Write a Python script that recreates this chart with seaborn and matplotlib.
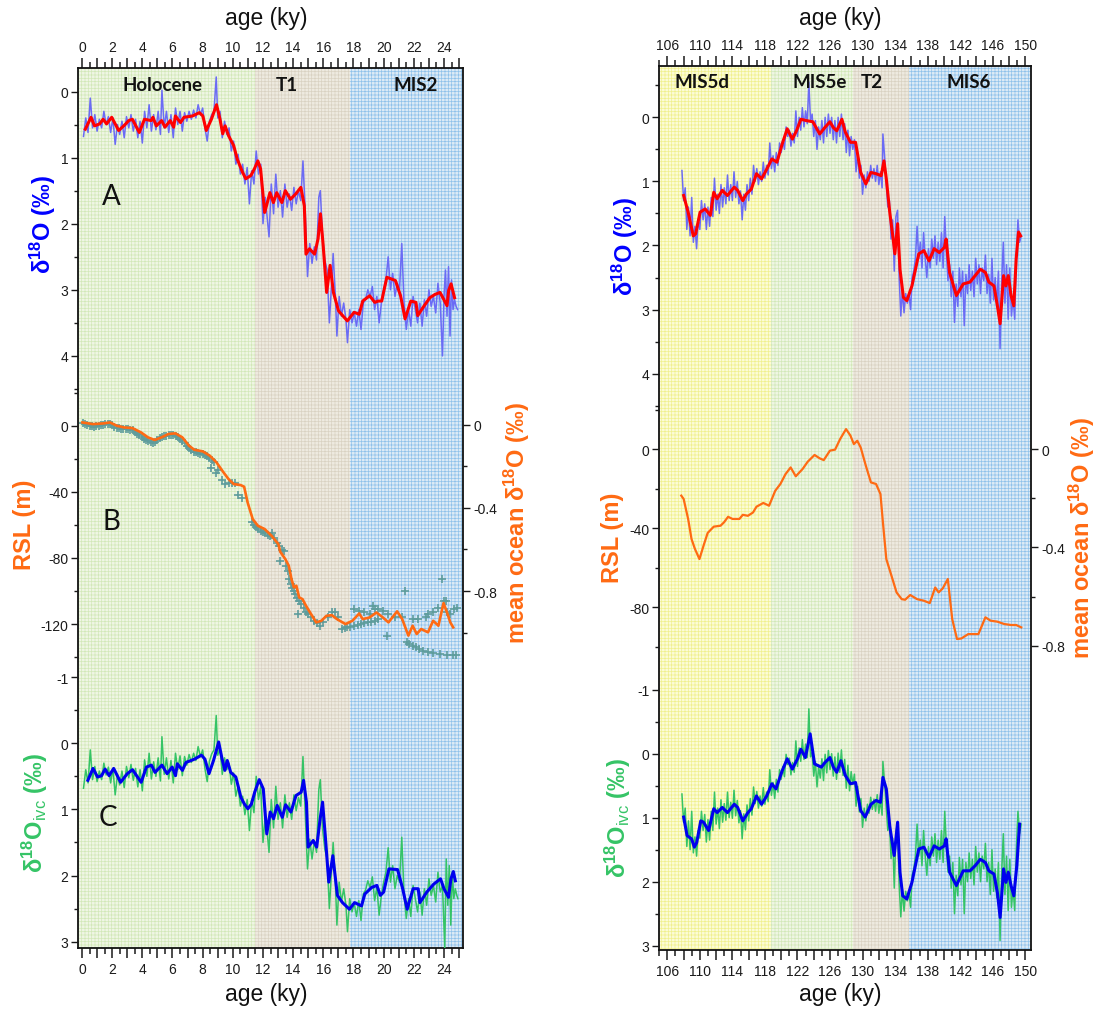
import numpy as np
import matplotlib
matplotlib.use("Agg")
import matplotlib.pyplot as plt
from matplotlib.ticker import MultipleLocator, FuncFormatter
import seaborn as sns

plt.rcParams['font.family'] = ['Liberation Sans', 'DejaVu Sans']
plt.rcParams['mathtext.fontset'] = 'custom'
plt.rcParams['mathtext.rm'] = 'Liberation Sans'
plt.rcParams['mathtext.bf'] = 'Liberation Sans:bold'
plt.rcParams['mathtext.it'] = 'Liberation Sans:italic'
plt.rcParams['axes.unicode_minus'] = False
plt.rcParams['hatch.linewidth'] = 0.5

# ---------------- DATA: left column (0-25 ky) ----------------
L_A_RAW = [(0.10,0.68),(0.25,0.40),(0.40,0.62),(0.55,0.10),(0.70,0.55),(0.85,0.35),(1.00,0.60),(1.15,0.42),(1.30,0.55),(1.45,0.30),
 (1.60,0.50),(1.75,0.38),(1.90,0.62),(2.05,0.40),(2.20,0.80),(2.35,0.50),(2.50,0.65),(2.65,0.45),(2.80,0.70),(2.95,0.38),
 (3.10,0.55),(3.25,0.35),(3.40,0.60),(3.55,0.42),(3.70,0.70),(3.85,0.45),(4.00,0.78),(4.15,0.30),(4.30,0.55),(4.45,0.20),
 (4.60,0.60),(4.75,0.35),(4.90,0.58),(5.05,0.30),(5.20,0.65),(5.30,-0.02),(5.45,0.55),(5.60,0.30),(5.75,0.62),(5.90,0.35),
 (6.05,0.70),(6.20,0.25),(6.35,0.50),(6.50,0.30),(6.65,0.60),(6.80,0.32),(6.95,0.45),(7.10,0.30),(7.25,0.42),(7.40,0.28),
 (7.55,0.40),(7.70,0.20),(7.85,0.35),(8.00,0.25),(8.15,0.55),(8.30,0.75),(8.45,0.45),(8.60,0.35),(8.75,0.30),(8.90,-0.22),
 (9.00,0.40),(9.15,0.30),(9.30,0.70),(9.45,0.45),(9.60,0.65),(9.75,0.55),(9.90,0.90),(10.05,0.75),(10.20,1.10),(10.35,0.95),
 (10.50,1.25),(10.65,1.10),(10.80,1.40),(10.95,1.15),(11.10,1.70),(11.25,1.20),(11.40,1.40),(11.55,0.90),(11.70,1.25),(11.85,1.10),
 (12.00,2.00),(12.15,1.60),(12.30,1.95),(12.40,2.20),(12.55,1.40),(12.70,1.85),(12.85,1.25),(13.00,1.75),(13.15,1.50),(13.30,1.90),
 (13.45,1.40),(13.60,1.75),(13.75,1.55),(13.90,1.80),(14.05,1.45),(14.20,1.70),(14.35,1.50),(14.50,1.65),(14.65,1.05),(14.80,1.80),
 (14.95,2.80),(15.10,2.30),(15.25,2.60),(15.40,2.35),(15.55,2.55),(15.70,1.60),(15.80,1.50),(15.95,2.20),(16.10,2.55),(16.25,2.70),
 (16.40,3.50),(16.55,2.90),(16.65,2.45),(16.80,3.10),(16.90,3.70),(17.05,3.10),(17.20,3.40),(17.35,3.20),(17.50,3.45),(17.60,3.80),
 (17.75,3.30),(17.90,3.50),(18.05,3.35),(18.20,3.55),(18.35,3.30),(18.50,3.60),(18.65,3.20),(18.80,3.15),(18.95,3.00),(19.10,3.10),
 (19.25,2.95),(19.40,3.30),(19.55,3.10),(19.70,3.50),(19.85,3.20),(20.00,3.00),(20.15,2.85),(20.30,2.50),(20.45,3.00),(20.60,2.75),
 (20.75,3.10),(20.90,2.90),(21.05,3.00),(21.20,2.30),(21.35,3.20),(21.50,3.60),(21.65,3.30),(21.80,3.55),(21.95,3.10),(22.10,3.30),
 (22.25,3.50),(22.40,3.20),(22.55,3.55),(22.70,3.15),(22.85,3.40),(23.00,3.00),(23.15,3.25),(23.30,3.10),(23.45,3.35),(23.60,2.90),
 (23.75,3.20),(23.90,4.00),(24.00,3.10),(24.10,2.70),(24.20,3.40),(24.30,2.65),(24.40,3.70),(24.50,2.85),(24.60,3.30),(24.70,3.15),
 (24.80,3.25),(24.90,3.30)]

L_A_SMOOTH = [(0.22,0.57),(0.60,0.39),(0.83,0.52),(1.17,0.49),(1.40,0.42),(1.63,0.49),(1.97,0.39),(2.43,0.59),(2.77,0.52),(3.10,0.44),
 (3.34,0.42),(3.80,0.62),(4.14,0.42),(4.59,0.44),(4.70,0.39),(4.93,0.52),(5.28,0.44),(5.50,0.54),(5.85,0.44),(6.08,0.54),
 (6.19,0.37),(6.53,0.47),(6.76,0.39),(7.33,0.37),(7.78,0.32),(8.01,0.37),(8.24,0.59),(8.58,0.42),(8.92,0.20),(9.15,0.42),
 (9.33,0.64),(9.49,0.52),(9.72,0.67),(10.06,0.82),(10.29,1.02),(10.64,1.22),(10.86,1.32),(11.20,1.27),(11.43,1.17),(11.66,1.05),
 (11.84,1.17),(12.11,1.83),(12.23,1.73),(12.46,1.53),(12.69,1.68),(12.91,1.53),(13.25,1.68),(13.48,1.50),(13.82,1.63),(14.17,1.55),
 (14.51,1.45),(14.74,1.73),(14.85,2.46),(15.08,2.38),(15.42,2.46),(15.65,2.23),(15.81,1.85),(15.99,2.33),(16.22,3.04),(16.45,2.63),
 (16.67,3.04),(17.01,3.32),(17.59,3.47),(18.04,3.34),(18.38,3.37),(18.61,3.17),(19.07,3.09),(19.41,3.19),(19.64,3.17),(19.87,3.17),
 (20.21,2.81),(20.78,2.86),(21.12,3.09),(21.42,3.44),(21.80,3.17),(22.14,3.19),(22.26,3.39),(22.60,3.27),(23.06,3.12),(23.40,3.07),
 (23.74,3.04),(23.97,3.14),(24.20,3.24),(24.31,3.01),(24.47,2.91),(24.70,3.12)]

L_RSL_LINE = [(0.03,2.0),(0.72,1.0),(1.40,1.4),(1.86,2.0),(2.31,0.0),(2.77,-1.0),(3.34,-1.4),(3.91,-4.0),(4.37,-7.0),(4.82,-8.6),
 (5.28,-7.0),(5.73,-5.0),(6.19,-4.6),(6.65,-7.0),(7.10,-12.1),(7.44,-14.5),(8.01,-15.5),(8.47,-18.1),(8.92,-22.2),(9.38,-28.2),
 (9.72,-32.3),(10.06,-35.3),(10.52,-35.9),(10.75,-36.9),(10.98,-46.4),(11.32,-56.5),(11.66,-60.5),(12.11,-62.5),(12.57,-66.6),(13.02,-71.6),
 (13.14,-76.2),(13.48,-80.7),(13.71,-84.7),(13.89,-92.8),(14.05,-97.8),(14.21,-96.8),(14.40,-103.9),(14.62,-104.9),(14.85,-108.9),(15.19,-114.0),
 (15.53,-119.0),(15.87,-118.0),(16.21,-115.0),(16.56,-114.6),(16.90,-117.0),(17.47,-120.0),(17.93,-118.0),(18.38,-113.6),(18.61,-117.0),(19.07,-116.0),
 (19.52,-113.0),(19.87,-115.4),(20.32,-119.0),(20.89,-112.3),(21.23,-117.0),(21.64,-127.0),(21.92,-121.0),(22.19,-126.0),(22.49,-123.0),(22.94,-125.0),
 (23.28,-118.0),(23.63,-121.0),(23.97,-107.3),(24.20,-113.0),(24.42,-119.0),(24.61,-122.0)]

L_RSL_PTS = [(0.05,1.5),(0.2,1.0),(0.35,0.5),(0.5,0.0),(0.65,-0.3),(0.8,-0.5),(0.95,-0.3),(1.1,0.0),(1.25,0.3),(1.4,0.6),
 (1.55,0.8),(1.7,1.0),(1.85,0.8),(2.0,0.3),(2.15,-0.5),(2.3,-1.2),(2.45,-1.5),(2.6,-1.8),(2.75,-2.0),(2.9,-2.2),
 (3.05,-2.2),(3.2,-2.4),(3.35,-2.8),(3.5,-3.8),(3.65,-4.8),(3.8,-5.8),(3.95,-6.8),(4.1,-7.8),(4.25,-8.6),(4.4,-9.4),
 (4.55,-10.0),(4.7,-10.2),(4.85,-9.8),(5.0,-8.8),(5.15,-7.6),(5.3,-6.8),(5.45,-6.2),(5.6,-6.0),(5.75,-5.6),(5.9,-5.4),
 (6.05,-5.6),(6.2,-6.0),(6.35,-7.0),(6.5,-8.0),(6.65,-9.0),(6.8,-10.5),(6.95,-12.0),(7.1,-13.5),(7.25,-14.8),(7.4,-15.6),
 (7.55,-16.0),(7.7,-16.4),(7.85,-16.8),(8.0,-17.2),(8.15,-17.8),(8.3,-18.6),(8.45,-19.4),(8.6,-20.5),
 (8.55,-25.5),(8.75,-22),(8.9,-28.5),(9.05,-27),(9.3,-33),(9.5,-35.5),(9.75,-34.5),(9.95,-34.5),(10.15,-34.5),(10.35,-42),
 (10.6,-44),(11.25,-58),(11.4,-60),(11.55,-61),(11.7,-62.5),(11.85,-63.5),(12.0,-64),(12.15,-65),(12.3,-66),(12.45,-66.5),
 (12.6,-65),(12.75,-68),(12.9,-71),(13.05,-73),(13.15,-82),(13.25,-75),(13.4,-76),(13.5,-85),(13.65,-88),(13.75,-93),
 (13.85,-96),(13.95,-98),(14.05,-100),(14.15,-102),(14.25,-104),(14.3,-114),(14.4,-106),(14.55,-108),(14.7,-110),(14.85,-113),
 (15.0,-114),(15.2,-116),(15.4,-118),(15.6,-119.5),(15.8,-121),(16.0,-119),(16.3,-116),(16.6,-113),(16.8,-113),(17.0,-116),
 (18.04,-111),(18.38,-112),(18.72,-113),(19.07,-114),(19.41,-111),(19.3,-109),(19.64,-111),(19.98,-112),(20.32,-114),(20.78,-116),
 (21.23,-116),(21.92,-117),(22.26,-117),(22.83,-116),(22.94,-114),(23.28,-113),(23.63,-110),(23.97,-106),(24.2,-113),(24.42,-114),
 (24.65,-111),(24.88,-110),
 (17.24,-123),(17.45,-122.5),(17.59,-122),(17.8,-121.5),(18.04,-121),(18.27,-120.5),(18.5,-120),(18.72,-119.5),(18.95,-119),(19.18,-118.5),
 (19.4,-118),(19.63,-117),
 (21.56,-131),(21.7,-132),(21.92,-133),(22.15,-134),(22.37,-135),(22.6,-136),(22.94,-137),(23.3,-137.5),(23.74,-138),(24.2,-138.5),
 (24.6,-139),(24.8,-139),
 (20.2,-127),(21.43,-100),(23.9,-93),(24.1,-106)]

L_C_RAW = [(0.10,0.68),(0.25,0.40),(0.40,0.60),(0.55,0.10),(0.70,0.55),(0.85,0.35),(1.00,0.58),(1.15,0.42),(1.30,0.55),(1.45,0.30),
 (1.60,0.48),(1.75,0.36),(1.90,0.60),(2.05,0.38),(2.20,0.78),(2.35,0.48),(2.50,0.63),(2.65,0.42),(2.80,0.67),(2.95,0.35),
 (3.10,0.52),(3.25,0.32),(3.40,0.56),(3.55,0.38),(3.70,0.66),(3.85,0.40),(4.00,0.72),(4.15,0.25),(4.30,0.50),(4.45,0.15),
 (4.60,0.54),(4.75,0.28),(4.90,0.50),(5.05,0.22),(5.20,0.57),(5.30,-0.10),(5.45,0.47),(5.60,0.22),(5.75,0.54),(5.90,0.26),
 (6.05,0.60),(6.20,0.15),(6.35,0.40),(6.50,0.19),(6.65,0.49),(6.80,0.20),(6.95,0.33),(7.10,0.17),(7.25,0.29),(7.40,0.15),
 (7.55,0.26),(7.70,0.05),(7.85,0.20),(8.00,0.10),(8.15,0.38),(8.30,0.58),(8.45,0.27),(8.60,0.16),(8.75,0.10),(8.90,-0.42),
 (9.00,0.18),(9.15,0.08),(9.30,0.47),(9.45,0.22),(9.60,0.40),(9.75,0.30),(9.90,0.62),(10.05,0.45),(10.20,0.80),(10.35,0.65),
 (10.50,0.95),(10.65,0.80),(10.80,1.08),(10.95,0.85),(11.10,1.32),(11.25,0.85),(11.40,1.05),(11.55,0.50),(11.70,0.85),(11.85,0.65),
 (12.00,1.50),(12.15,1.10),(12.30,1.40),(12.40,1.65),(12.55,0.85),(12.70,1.28),(12.85,0.65),(13.00,1.15),(13.15,0.90),(13.30,1.28),
 (13.45,0.78),(13.60,1.12),(13.75,0.90),(13.90,1.15),(14.05,0.78),(14.20,1.02),(14.35,0.82),(14.50,0.95),(14.65,0.20),(14.80,1.05),
 (14.95,1.90),(15.10,1.45),(15.25,1.75),(15.40,1.48),(15.55,1.65),(15.70,0.70),(15.80,0.55),(15.95,1.30),(16.10,1.60),(16.25,1.75),
 (16.40,2.50),(16.55,1.90),(16.65,1.50),(16.80,2.10),(16.90,2.75),(17.05,2.10),(17.20,2.40),(17.35,2.20),(17.50,2.45),(17.60,2.85),
 (17.75,2.35),(17.90,2.55),(18.05,2.42),(18.20,2.62),(18.35,2.38),(18.50,2.68),(18.65,2.28),(18.80,2.22),(18.95,2.08),(19.10,2.18),
 (19.25,2.02),(19.40,2.38),(19.55,2.18),(19.70,2.60),(19.85,2.30),(20.00,2.10),(20.15,1.95),(20.30,1.58),(20.45,2.10),(20.60,1.85),
 (20.75,2.20),(20.90,2.00),(21.05,2.10),(21.20,1.42),(21.35,2.28),(21.50,2.65),(21.65,2.35),(21.80,2.62),(21.95,2.15),(22.10,2.35),
 (22.25,2.55),(22.40,2.25),(22.55,2.60),(22.70,2.20),(22.85,2.45),(23.00,2.05),(23.15,2.30),(23.30,2.15),(23.45,2.40),(23.60,1.95),
 (23.75,2.25),(23.90,2.15),(24.05,3.10),(24.15,1.75),(24.25,2.45),(24.35,1.85),(24.45,2.75),(24.55,1.95),(24.65,2.35),(24.75,2.20),
 (24.85,2.30),(24.92,2.35)]

L_C_SMOOTH = [(0.39,0.56),(0.73,0.38),(1.03,0.51),(1.30,0.49),(1.53,0.39),(1.80,0.49),(2.10,0.38),(2.56,0.59),(3.00,0.46),(3.35,0.40),
 (3.92,0.59),(4.27,0.36),(4.60,0.33),(4.84,0.44),(5.30,0.33),(5.64,0.46),(5.98,0.36),(6.20,0.49),(6.32,0.31),(6.66,0.41),
 (6.89,0.29),(7.46,0.24),(7.92,0.18),(8.15,0.24),(8.42,0.46),(8.72,0.26),(9.06,-0.02),(9.29,0.24),(9.47,0.41),(9.63,0.26),
 (9.86,0.44),(10.20,0.51),(10.54,0.82),(10.77,0.92),(11.00,0.99),(11.23,0.92),(11.45,0.74),(11.75,0.55),(12.02,0.69),(12.25,1.37),
 (12.48,1.04),(12.70,1.14),(12.94,0.94),(13.28,1.12),(13.50,0.93),(13.85,1.04),(14.19,0.79),(14.53,0.74),(14.69,0.56),(14.88,0.89),
 (14.99,1.57),(15.33,1.47),(15.56,1.57),(15.79,1.14),(15.95,0.89),(16.13,1.40),(16.36,2.10),(16.63,1.70),(16.93,2.30),(17.27,2.41),
 (17.73,2.51),(18.07,2.41),(18.53,2.46),(18.75,2.28),(19.21,2.18),(19.55,2.15),(19.78,2.30),(20.00,2.25),(20.35,1.90),(20.92,1.91),
 (21.26,2.20),(21.56,2.51),(21.95,2.20),(22.29,2.20),(22.40,2.41),(22.86,2.25),(23.32,2.13),(23.77,2.05),(24.00,2.20),(24.30,2.33),
 (24.46,2.05),(24.62,1.94),(24.75,2.08)]

# ---------------- DATA: right column (105-151 ky) ----------------
R_A_RAW = [(107.8,0.83),(108.0,1.30),(108.2,1.10),(108.4,1.75),(108.6,1.40),(108.8,1.85),(109.0,1.25),(109.2,1.95),(109.4,1.70),(109.6,2.05),
 (109.8,1.60),(110.0,1.75),(110.2,1.30),(110.4,1.60),(110.6,1.35),(110.8,1.75),(111.0,1.40),(111.2,1.70),(111.4,1.25),(111.6,1.55),
 (111.8,0.95),(112.0,1.45),(112.2,1.20),(112.4,1.50),(112.6,1.05),(112.8,1.40),(113.0,1.10),(113.2,1.35),(113.4,0.90),(113.6,1.30),
 (113.8,1.05),(114.0,1.30),(114.2,0.85),(114.4,1.25),(114.6,1.00),(114.8,1.35),(115.0,1.15),(115.2,1.60),(115.4,1.20),(115.6,1.45),
 (115.8,1.05),(116.0,1.30),(116.2,0.95),(116.4,1.20),(116.6,0.75),(116.8,1.00),(117.0,0.80),(117.2,1.05),(117.4,0.85),(117.6,1.00),
 (117.8,0.70),(118.0,0.95),(118.2,0.75),(118.4,0.90),(118.6,0.40),(118.8,0.80),(119.0,0.60),(119.2,0.85),(119.4,0.55),(119.6,0.75),
 (119.8,0.40),(120.0,0.55),(120.2,0.35),(120.4,0.50),(120.6,0.15),(120.8,0.30),(121.0,0.20),(121.2,0.45),(121.4,0.25),(121.6,0.40),
 (121.8,-0.10),(122.0,0.30),(122.2,0.00),(122.4,0.20),(122.6,-0.15),(122.8,0.15),(123.0,-0.10),(123.2,0.10),(123.4,-0.55),(123.6,0.05),
 (123.8,-0.05),(124.0,0.30),(124.2,0.05),(124.4,0.50),(124.6,0.15),(124.8,0.35),(125.0,0.05),(125.2,0.40),(125.4,0.00),(125.6,0.30),
 (125.8,-0.05),(126.0,0.25),(126.2,0.00),(126.4,0.35),(126.6,0.05),(126.8,0.40),(127.0,0.00),(127.2,0.30),(127.4,-0.05),(127.6,0.35),
 (127.8,0.10),(128.0,0.55),(128.2,0.20),(128.4,0.60),(128.6,0.30),(128.8,0.50),(129.0,0.35),(129.2,0.85),(129.4,0.55),(129.6,0.95),
 (129.8,0.75),(130.0,1.20),(130.2,0.90),(130.4,1.10),(130.6,0.85),(130.8,1.00),(131.0,0.75),(131.2,0.95),(131.4,0.80),(131.6,1.00),
 (131.8,0.75),(132.0,1.05),(132.2,0.85),(132.4,1.10),(132.5,0.26),(132.7,0.60),(132.9,1.00),(133.1,1.40),(133.3,1.30),(133.5,1.90),
 (133.7,1.60),(133.9,2.40),(134.1,1.55),(134.3,1.45),(134.5,2.50),(134.7,3.10),(134.9,2.70),(135.1,3.05),(135.3,2.75),(135.5,2.90),
 (135.7,2.75),(135.9,3.00),(136.1,2.50),(136.3,2.40),(136.5,2.20),(136.7,1.70),(136.9,2.20),(137.1,1.95),(137.3,2.35),(137.5,1.80),
 (137.7,2.20),(137.9,2.50),(138.1,2.05),(138.3,2.35),(138.5,1.90),(138.7,2.20),(138.9,1.85),(139.1,2.30),(139.3,1.95),(139.5,2.25),
 (139.7,1.80),(139.9,2.35),(140.1,1.55),(140.3,2.10),(140.5,2.55),(140.7,2.30),(140.9,2.80),(141.1,2.40),(141.3,3.20),(141.5,2.60),
 (141.7,2.95),(141.9,2.35),(142.1,2.80),(142.3,2.40),(142.5,3.25),(142.7,2.45),(142.9,2.75),(143.1,2.30),(143.3,2.70),(143.5,2.40),
 (143.7,2.80),(143.9,2.20),(144.1,2.60),(144.3,2.30),(144.5,2.75),(144.7,2.35),(144.9,2.55),(145.1,2.15),(145.3,2.75),(145.5,2.45),
 (145.7,2.90),(145.9,2.20),(146.1,2.85),(146.3,2.50),(146.5,2.95),(146.7,2.40),(146.9,3.61),(147.1,2.55),(147.3,1.95),(147.5,2.90),
 (147.7,2.30),(147.9,3.15),(148.1,2.35),(148.3,3.10),(148.5,2.80),(148.7,3.15),(148.9,2.20),(149.1,1.60),(149.3,1.95),(149.5,1.85)]

R_A_SMOOTH = [(108.01,1.22),(108.56,1.48),(109.19,1.85),(109.48,1.82),(110.03,1.48),(110.66,1.43),(111.29,1.53),(111.71,1.17),(112.13,1.27),(112.76,1.14),
 (113.39,1.22),(114.23,1.09),(114.65,1.14),(115.28,1.30),(115.70,1.20),(116.33,1.12),(116.96,0.88),(117.59,0.96),(118.22,0.81),(118.85,0.65),
 (119.48,0.70),(120.11,0.42),(120.74,0.18),(121.37,0.34),(121.88,0.21),(122.42,0.03),(123.05,0.05),(123.89,0.07),(124.73,0.26),(125.36,0.16),
 (125.99,0.07),(126.41,0.16),(126.83,0.21),(127.46,0.03),(127.88,0.23),(128.51,0.39),(129.14,0.39),(129.77,0.86),(130.40,1.04),(131.03,0.86),
 (131.66,0.88),(132.29,0.91),(132.63,0.68),(132.92,0.96),(133.34,1.48),(133.76,1.90),(133.97,2.13),(134.31,1.66),(134.60,2.37),(135.02,2.81),
 (135.44,2.86),(136.07,2.63),(136.91,2.13),(137.54,2.08),(138.17,2.24),(138.80,2.05),(139.43,2.11),(140.06,2.03),(140.27,1.90),(140.69,2.42),
 (141.53,2.78),(142.37,2.60),(143.21,2.57),(143.84,2.47),(144.47,2.37),(145.10,2.42),(145.52,2.57),(146.15,2.63),(146.57,2.94),(146.91,3.22),
 (147.33,2.47),(147.62,2.63),(147.91,2.47),(148.25,2.78),(148.59,2.94),(148.88,2.21),(149.17,1.79),(149.43,1.85)]

R_RSL_LINE = [(107.72,-23.6),(108.01,-25.3),(108.56,-35.4),(108.98,-45.6),(109.40,-50.6),(109.95,-55.7),(110.45,-49.0),(110.96,-42.5),(111.71,-39.3),(112.55,-38.8),
 (112.97,-37.1),(113.47,-34.3),(114.02,-35.4),(114.86,-35.4),(115.28,-33.3),(115.91,-33.8),(116.54,-32.1),(116.96,-29.2),(117.80,-27.3),(118.51,-28.7),
 (119.27,-21.1),(119.90,-17.7),(120.53,-12.7),(121.16,-9.3),(121.79,-13.8),(122.63,-10.1),(123.26,-6.4),(124.10,-3.0),(124.73,-4.7),(125.23,-5.6),
 (125.99,-0.8),(126.62,-0.3),(127.25,5.1),(127.97,10.1),(128.51,6.8),(128.93,2.5),(129.35,4.2),(129.77,0.8),(130.40,-8.4),(131.03,-16.9),
 (131.66,-17.7),(132.20,-22.8),(132.50,-37.1),(132.92,-55.7),(133.55,-64.1),(134.18,-72.6),(134.81,-76.0),(135.23,-76.3),(135.86,-73.9),(136.70,-76.0),
 (137.54,-76.8),(138.26,-78.0),(138.93,-70.1),(139.35,-72.6),(139.85,-70.6),(140.48,-65.8),(141.02,-86.1),(141.61,-96.2),(142.15,-95.9),(142.99,-93.7),
 (144.24,-93.7),(145.10,-85.2),(145.73,-86.9),(146.57,-87.4),(147.41,-88.6),(148.25,-89.1),(148.88,-89.1),(149.51,-90.3)]

R_C_RAW = [(107.8,0.63),(108.0,1.07),(108.2,0.85),(108.4,1.45),(108.6,1.05),(108.8,1.50),(109.0,0.90),(109.2,1.55),(109.4,1.30),(109.6,1.60),
 (109.8,1.20),(110.0,1.32),(110.2,0.90),(110.4,1.20),(110.6,0.95),(110.8,1.38),(111.0,1.03),(111.2,1.35),(111.4,0.90),(111.6,1.20),
 (111.8,0.60),(112.0,1.10),(112.2,0.85),(112.4,1.17),(112.6,0.72),(112.8,1.07),(113.0,0.78),(113.2,1.04),(113.4,0.60),(113.6,1.00),
 (113.8,0.76),(114.0,1.01),(114.2,0.57),(114.4,0.97),(114.6,0.73),(114.8,1.08),(115.0,0.89),(115.2,1.33),(115.4,0.94),(115.6,1.19),
 (115.8,0.80),(116.0,1.05),(116.2,0.70),(116.4,0.96),(116.6,0.52),(116.8,0.78),(117.0,0.59),(117.2,0.85),(117.4,0.66),(117.6,0.82),
 (117.8,0.53),(118.0,0.79),(118.2,0.60),(118.4,0.75),(118.6,0.25),(118.8,0.65),(119.0,0.45),(119.2,0.70),(119.4,0.40),(119.6,0.60),
 (119.8,0.25),(120.0,0.40),(120.2,0.20),(120.4,0.36),(120.6,0.01),(120.8,0.17),(121.0,0.07),(121.2,0.33),(121.4,0.14),(121.6,0.29),
 (121.8,-0.20),(122.0,0.20),(122.2,-0.09),(122.4,0.12),(122.6,-0.22),(122.8,0.09),(123.0,-0.15),(123.2,0.06),(123.4,-0.70),(123.6,0.05),
 (123.8,-0.02),(124.0,0.35),(124.2,0.12),(124.4,0.52),(124.6,0.20),(124.8,0.38),(125.0,0.08),(125.2,0.42),(125.4,0.01),(125.6,0.30),
 (125.8,-0.05),(126.0,0.25),(126.2,0.00),(126.4,0.35),(126.6,0.05),(126.8,0.40),(127.0,-0.01),(127.2,0.29),(127.4,-0.06),(127.6,0.34),
 (127.8,0.09),(128.0,0.54),(128.2,0.18),(128.4,0.58),(128.6,0.28),(128.8,0.48),(129.0,0.32),(129.2,0.82),(129.4,0.51),(129.6,0.91),
 (129.8,0.70),(130.0,1.15),(130.2,0.85),(130.4,1.05),(130.6,0.79),(130.8,0.93),(131.0,0.68),(131.2,0.87),(131.4,0.71),(131.6,0.90),
 (131.8,0.64),(132.0,0.93),(132.2,0.72),(132.4,0.96),(132.5,0.12),(132.7,0.44),(132.9,0.82),(133.1,1.20),(133.3,1.07),(133.5,1.64),
 (133.7,1.32),(133.9,2.10),(134.1,1.22),(134.3,1.10),(134.5,2.05),(134.7,2.55),(134.9,2.12),(135.1,2.46),(135.3,2.15),(135.5,2.30),
 (135.7,2.15),(135.9,2.40),(136.1,1.90),(136.3,1.80),(136.5,1.60),(136.7,1.10),(136.9,1.60),(137.1,1.35),(137.3,1.75),(137.5,1.20),
 (137.7,1.60),(137.9,1.90),(138.1,1.45),(138.3,1.75),(138.5,1.30),(138.7,1.60),(138.9,1.25),(139.1,1.70),(139.3,1.35),(139.5,1.65),
 (139.7,1.20),(139.9,1.70),(140.1,0.90),(140.3,1.45),(140.5,1.85),(140.7,1.60),(140.9,2.10),(141.1,1.70),(141.3,2.50),(141.5,1.90),
 (141.7,2.22),(141.9,1.62),(142.1,2.05),(142.3,1.65),(142.5,2.50),(142.7,1.70),(142.9,2.00),(143.1,1.55),(143.3,1.95),(143.5,1.65),
 (143.7,2.05),(143.9,1.45),(144.1,1.85),(144.3,1.55),(144.5,2.00),(144.7,1.60),(144.9,1.80),(145.1,1.40),(145.3,2.00),(145.5,1.70),
 (145.7,2.20),(145.9,1.50),(146.1,2.15),(146.3,1.80),(146.5,2.25),(146.7,1.70),(146.9,2.92),(147.1,1.85),(147.3,1.25),(147.5,2.20),
 (147.7,1.60),(147.9,2.45),(148.1,1.65),(148.3,2.40),(148.5,2.10),(148.7,2.45),(148.9,1.50),(149.1,0.90),(149.3,1.25),(149.5,1.10)]

R_C_SMOOTH = [(108.01,0.99),(108.43,1.28),(108.98,1.33),(109.32,1.46),(109.61,1.39),(110.11,1.05),(110.45,1.07),(111.08,1.20),(111.71,0.86),(112.13,0.92),
 (112.76,0.84),(113.39,0.92),(114.23,0.79),(114.65,0.84),(115.28,1.05),(115.91,0.92),(116.33,0.86),(116.96,0.66),(117.59,0.79),(118.22,0.66),
 (118.85,0.47),(119.36,0.55),(120.11,0.27),(120.74,0.08),(121.37,0.24),(122.00,0.08),(122.42,-0.07),(122.97,0.06),(123.56,-0.31),(124.10,0.16),
 (124.94,0.21),(125.36,0.14),(125.99,0.06),(126.41,0.21),(126.83,0.29),(127.34,0.11),(127.88,0.34),(128.51,0.47),(129.14,0.45),(129.77,0.89),
 (130.32,0.99),(131.03,0.79),(131.66,0.73),(132.20,0.76),(132.50,0.37),(132.92,0.55),(133.34,1.13),(133.89,1.59),(134.31,1.07),(134.60,1.85),
 (134.93,2.22),(135.44,2.27),(136.07,2.01),(136.91,1.49),(137.54,1.46),(138.17,1.62),(138.80,1.44),(139.43,1.49),(140.06,1.44),(140.27,1.33),
 (140.69,1.85),(141.53,2.06),(142.37,1.83),(143.21,1.83),(143.84,1.75),(144.47,1.65),(145.10,1.70),(145.52,1.83),(146.15,1.88),(146.57,2.17),
 (146.91,2.56),(147.33,1.80),(147.62,2.01),(147.91,1.85),(148.25,2.06),(148.59,2.22),(148.96,1.75),(149.30,1.10)]

# period shading (start, end, label)
L_PERIODS = [(-0.3, 11.5, 'Holocene'), (11.5, 17.8, 'T1'), (17.8, 25.4, 'MIS2')]
R_PERIODS = [(104.9, 118.8, 'MIS5d'), (118.8, 128.8, 'MIS5e'), (128.8, 135.7, 'T2'), (135.7, 151.0, 'MIS6')]
L_PERIOD_LABEL_X = [5.35, 13.6, 22.1]
R_PERIOD_LABEL_X = [110.25, 124.7, 131.15, 143.0]

# ---------------- styles ----------------
PERIOD_STYLE = {
    'Holocene': ('#eff6e4', '#d2e8b8'),
    'MIS5e':    ('#eff6e4', '#d2e8b8'),
    'T1':       ('#eeeae0', '#d9d2c2'),
    'T2':       ('#eeeae0', '#d9d2c2'),
    'MIS2':     ('#dceaf6', '#8fc1ea'),
    'MIS6':     ('#dceaf6', '#8fc1ea'),
    'MIS5d':    ('#fcfcd6', '#f0f08e'),
}
C_RAW_A = '#6b6bf5'
C_SM_A = '#ff0000'
C_RAW_C = '#35c466'
C_SM_C = '#0000ee'
C_ORANGE = '#ff6a13'
C_PTS = '#5e9c9c'
TICKC = '#1a1a1a'

W, H = 1095, 1012
fig = plt.figure(figsize=(W / 100, H / 100), dpi=100)


def px_rect(x0, y0, x1, y1):
    return [x0 / W, 1 - y1 / H, (x1 - x0) / W, (y1 - y0) / H]


def unzip(pairs):
    a = np.array(pairs, dtype=float)
    return a[:, 0], a[:, 1]


def draw_line(ax, pairs, color, lw, z=3):
    x, y = unzip(pairs)
    sns.lineplot(x=x, y=y, ax=ax, color=color, linewidth=lw, sort=False,
                 estimator=None, legend=False, zorder=z)


def overlay(fig, rect, xlim):
    ax = fig.add_axes(rect)
    ax.patch.set_visible(False)
    for s in ax.spines.values():
        s.set_visible(False)
    ax.set_xlim(*xlim)
    ax.tick_params(axis='x', which='both', bottom=False, top=False,
                   labelbottom=False, labeltop=False)
    return ax


def style_y(ax, major, minor, labels, side='left'):
    ax.set_yticks(major)
    ax.set_yticklabels(labels)
    ax.set_yticks(minor, minor=True)
    ax.tick_params(axis='y', which='major', length=5, width=1.0, direction='out',
                   labelsize=10, colors=TICKC, pad=2)
    ax.tick_params(axis='y', which='minor', length=3, width=1.0, direction='out',
                   colors=TICKC)
    if side == 'right':
        ax.yaxis.tick_right()
        ax.tick_params(axis='y', which='both', left=False, labelleft=False,
                       right=True, labelright=True)
    else:
        ax.tick_params(axis='y', which='both', right=False, labelright=False)
    ax.set_ylabel('')
    ax.set_xlabel('')


def build_panel(rect, xlim, periods, plabel_x, major_step, minor_step, lab_every, lab_origin,
                ylims, a_raw, a_sm, rsl_line, rsl_pts, c_raw, c_sm, B_ticks, Br_ticks, A_minor):
    axA = fig.add_axes(rect)
    axA.set_xlim(*xlim)
    axA.set_ylim(*ylims['A'])
    for (x0, x1, name), lx in zip(periods, plabel_x):
        fc, hc = PERIOD_STYLE[name]
        axA.axvspan(max(x0, xlim[0]), min(x1, xlim[1]), facecolor=fc, edgecolor=hc,
                    hatch='+++++', linewidth=0, zorder=0)
        axA.text(lx, 0.982, name, transform=axA.get_xaxis_transform(), ha='center',
                 va='center', fontsize=13.5, fontweight='bold', family='Lato', color='#111111',
                 zorder=6)
    for s in axA.spines.values():
        s.set_linewidth(1.3)
        s.set_color('#111111')
        s.set_zorder(10)
    fmt = FuncFormatter(lambda v, p: ('%d' % round(v)) if abs(((round(v) - lab_origin) % lab_every)) < 1e-6 else '')
    axA.xaxis.set_major_locator(MultipleLocator(major_step))
    axA.xaxis.set_minor_locator(MultipleLocator(minor_step))
    axA.xaxis.set_major_formatter(fmt)
    axA.tick_params(axis='x', which='major', length=7, width=1.1, direction='out',
                    labelsize=10, colors=TICKC, pad=3, top=True, labeltop=True,
                    bottom=True, labelbottom=True)
    axA.tick_params(axis='x', which='minor', length=4, width=1.1, direction='out',
                    colors=TICKC, top=True, bottom=True)
    draw_line(axA, a_raw, C_RAW_A, 1.1, 3)
    draw_line(axA, a_sm, C_SM_A, 2.2, 4)
    style_y(axA, [0, 1, 2, 3, 4], A_minor, ['0', '1', '2', '3', '4'])

    axB = overlay(fig, rect, xlim)
    axB.set_ylim(*ylims['B'])
    if rsl_pts is not None:
        px, py = unzip(rsl_pts)
        sns.scatterplot(x=px, y=py, ax=axB, marker='+', s=38, color=C_PTS,
                        linewidth=1.2, legend=False, zorder=3)
    draw_line(axB, rsl_line, C_ORANGE, 1.9 if rsl_pts is not None else 1.6, 4)
    style_y(axB, B_ticks[0], B_ticks[1], B_ticks[2])

    axBr = overlay(fig, rect, xlim)
    axBr.set_ylim(*ylims['Br'])
    style_y(axBr, Br_ticks[0], Br_ticks[1], Br_ticks[2], side='right')

    axC = overlay(fig, rect, xlim)
    axC.set_ylim(*ylims['C'])
    draw_line(axC, c_raw, C_RAW_C, 1.1, 3)
    draw_line(axC, c_sm, C_SM_C, 2.2, 4)
    style_y(axC, [-1, 0, 1, 2, 3], [-0.5, 0.5, 1.5, 2.5], ['-1', '0', '1', '2', '3'])
    return axA


# left column
build_panel(px_rect(78.3, 69.3, 463.3, 949.3), (-0.245, 25.28), L_PERIODS, L_PERIOD_LABEL_X,
            1, 0.5, 2, 0,
            {'A': (12.962, -0.351), 'B': (-316.2, 216.3), 'Br': (-2.517, 1.712), 'C': (3.101, -10.21)},
            L_A_RAW, L_A_SMOOTH, L_RSL_LINE, L_RSL_PTS, L_C_RAW, L_C_SMOOTH,
            ([0, -40, -80, -120], [20, -20, -60, -100, -140], ['0', '-40', '-80', '-120']),
            ([0, -0.4, -0.8], [-0.2, -0.6, -1.0], ['0', '-0.4', '-0.8']),
            [0.5, 1.5, 2.5, 3.5, 4.5])

# right column
build_panel(px_rect(659.0, 66.7, 1031.3, 950.7), (104.98, 150.74), R_PERIODS, R_PERIOD_LABEL_X,
            2, 1, 4, 106,
            {'A': (12.986, -0.805), 'B': (-253.5, 194.1), 'Br': (-2.036, 1.559), 'C': (3.0625, -10.75)},
            R_A_RAW, R_A_SMOOTH, R_RSL_LINE, None, R_C_RAW, R_C_SMOOTH,
            ([0, -40, -80], [20, -20, -60, -100], ['0', '-40', '-80']),
            ([0, -0.4, -0.8], [-0.2, -0.6], ['0', '-0.4', '-0.8']),
            [-0.5, 0.5, 1.5, 2.5, 3.5, 4.5])


def ftext(x, y, s, **kw):
    fig.text(x / W, 1 - y / H, s, **kw)


# axis titles
for cx in (266, 840):
    ftext(cx, 19, 'age (ky)', ha='center', va='center', fontsize=16.5, color='#111111')
    ftext(cx, 995, 'age (ky)', ha='center', va='center', fontsize=16.5, color='#111111')

lab_d18 = r'δ$^{\mathbf{18}}$O (‰)'
lab_ivc = r'δ$^{\mathbf{18}}$O$_{\mathrm{ivc}}$ (‰)'
lab_mo = r'mean ocean δ$^{\mathbf{18}}$O (‰)'
ftext(43, 225, lab_d18, rotation=90, ha='center', va='center', fontsize=17, fontweight='bold', color='#0000ff')
ftext(625, 247, lab_d18, rotation=90, ha='center', va='center', fontsize=17, fontweight='bold', color='#0000ff')
ftext(24, 525, 'RSL (m)', rotation=90, ha='center', va='center', fontsize=17, fontweight='bold', color=C_ORANGE)
ftext(613, 538, 'RSL (m)', rotation=90, ha='center', va='center', fontsize=17, fontweight='bold', color=C_ORANGE)
ftext(517, 523, lab_mo, rotation=90, ha='center', va='center', fontsize=17, fontweight='bold', color=C_ORANGE)
ftext(1082, 538, lab_mo, rotation=90, ha='center', va='center', fontsize=17, fontweight='bold', color=C_ORANGE)
ftext(35, 813, lab_ivc, rotation=90, ha='center', va='center', fontsize=17, fontweight='bold', color=C_RAW_C)
ftext(618, 818, lab_ivc, rotation=90, ha='center', va='center', fontsize=17, fontweight='bold', color=C_RAW_C)

# panel letters
ftext(111, 197, 'A', ha='center', va='center', fontsize=20, family='Lato', color='#111111')
ftext(111, 522, 'B', ha='center', va='center', fontsize=20, family='Lato', color='#111111')
ftext(108, 818, 'C', ha='center', va='center', fontsize=20, family='Lato', color='#111111')

fig.savefig('out.png', dpi=100)
